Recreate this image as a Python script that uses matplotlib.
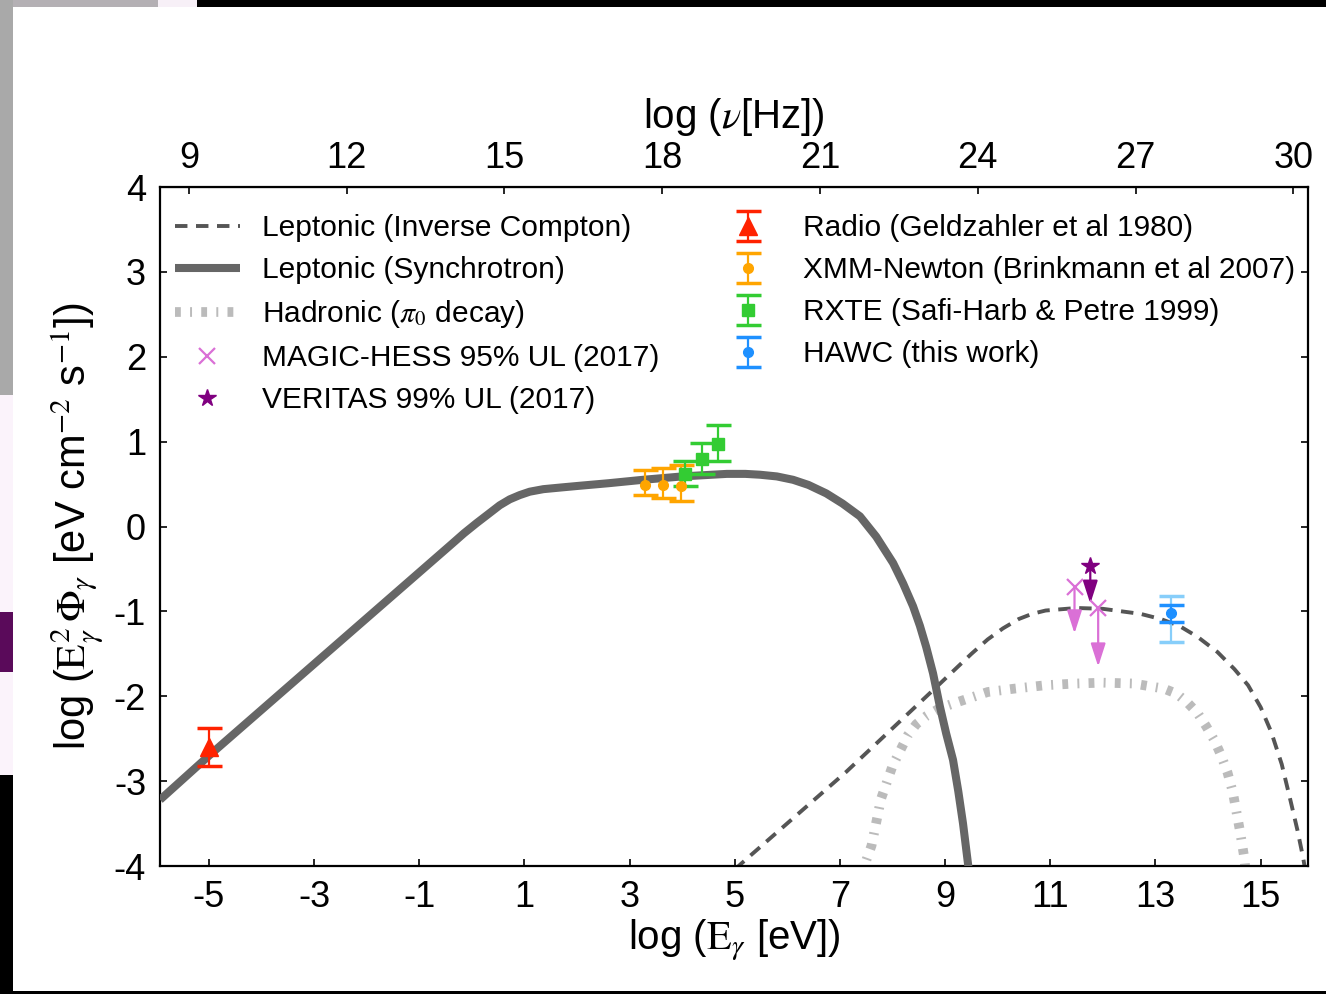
import numpy as np
import matplotlib.pyplot as plt
from matplotlib.patches import Rectangle

plt.rcParams['font.family'] = ['Liberation Sans', 'DejaVu Sans']
plt.rcParams['mathtext.fontset'] = 'stix'
plt.rcParams['axes.unicode_minus'] = False

# --- model curves: log(E [eV]) vs log(E^2 Phi)
sync_x = [-5.93, -4.98, -0.37, -0.15, 0.09, 0.30, 0.53, 0.72, 0.91, 1.10, 1.36, 1.70,
          2.05, 2.60, 3.25, 4.00, 4.85, 5.20, 5.48, 5.80, 6.11, 6.40, 6.74, 7.05,
          7.38, 7.69, 8.01, 8.20, 8.39, 8.52, 8.64, 8.77, 8.90, 9.02, 9.15, 9.25,
          9.34, 9.44, 9.48]
sync_y = [-3.22, -2.69, -0.20, -0.08, 0.04, 0.14, 0.25, 0.32, 0.37, 0.41, 0.44, 0.46,
          0.48, 0.51, 0.55, 0.59, 0.62, 0.62, 0.61, 0.59, 0.55, 0.49, 0.39, 0.27,
          0.12, -0.12, -0.43, -0.67, -0.94, -1.17, -1.42, -1.73, -2.12, -2.44, -2.75, -3.12,
          -3.50, -4.00, -4.20]

ic_x = [5.00, 5.31, 7.12, 8.87, 9.50, 9.81, 10.10, 10.40, 10.65, 10.91, 11.50, 12.00,
        12.72, 13.10, 13.45, 13.80, 14.18, 14.50, 14.76, 15.00, 15.20, 15.40, 15.56,
        15.70, 15.81, 15.86]
ic_y = [-4.04, -3.87, -2.89, -1.87, -1.50, -1.33, -1.20, -1.09, -1.03, -0.99, -0.96, -0.97,
        -1.03, -1.09, -1.17, -1.30, -1.48, -1.68, -1.87, -2.13, -2.42, -2.80, -3.21,
        -3.58, -3.91, -4.10]

had_x = [7.45, 7.49, 7.60, 7.78, 8.00, 8.29, 8.45, 8.65, 8.90, 9.23, 9.81, 10.32,
         10.91, 11.49, 12.00, 12.58, 13.16, 13.40, 13.60, 13.80, 13.96, 14.12, 14.25,
         14.37, 14.47, 14.61, 14.69, 14.72]
had_y = [-4.10, -3.95, -3.76, -3.21, -2.82, -2.46, -2.33, -2.23, -2.14, -2.07, -1.95, -1.91,
         -1.87, -1.85, -1.84, -1.85, -1.91, -1.97, -2.07, -2.20, -2.35, -2.52, -2.70,
         -2.90, -3.13, -3.60, -3.91, -4.10]

# --- measurements
radio_x = [-5.00]
radio_y = [-2.60]
radio_up = [0.23]
radio_dn = [0.22]

xmm_x = [3.29, 3.63, 3.97]
xmm_y = [0.49, 0.49, 0.48]
xmm_up = [0.17, 0.20, 0.24]
xmm_dn = [0.12, 0.15, 0.18]

rxte_x = [4.06, 4.37, 4.68]
rxte_y = [0.62, 0.79, 0.97]
rxte_up = [0.15, 0.19, 0.22]
rxte_dn = [0.14, 0.17, 0.20]

hawc_x = [13.30]
hawc_y = [-1.02]
hawc_stat = [0.10]
hawc_sys_up = [0.20]
hawc_sys_dn = [0.34]

magic_x = [11.46, 11.91]
magic_y = [-0.71, -0.96]
magic_end = [-1.26, -1.65]

veritas_x = [11.76]
veritas_y = [-0.47]
veritas_end = [-0.91]

xticks = [-5, -3, -1, 1, 3, 5, 7, 9, 11, 13, 15]
yticks = [-4, -3, -2, -1, 0, 1, 2, 3, 4]
nu_ticks = [9, 12, 15, 18, 21, 24, 27, 30]
LOG_H = 14.38  # log(nu) = log(E) + 14.38

fig = plt.figure(figsize=(13.26, 9.94), dpi=100)
ax = fig.add_axes([160 / 1326, 1 - 866 / 994, 1148 / 1326, 679 / 994])

l_ic, = ax.plot(ic_x, ic_y, color='#555555', lw=2.8, dashes=(3.2, 2.2), zorder=2,
                label='Leptonic (Inverse Compton)')
l_sync, = ax.plot(sync_x, sync_y, color='#666666', lw=5.8, solid_capstyle='butt',
                  solid_joinstyle='round', zorder=3, label='Leptonic (Synchrotron)')
l_had, = ax.plot(had_x, had_y, color='#bbbbbb', lw=7, dashes=(0.6, 0.95, 0.2, 0.95),
                 dash_capstyle='butt', zorder=1, label=r'Hadronic ($\pi_0$ decay)')

mh, = ax.plot(magic_x, magic_y, ls='none', marker='x', ms=11, mew=1.6, color='#da70d6',
              zorder=5, label='MAGIC-HESS 95% UL (2017)')
vs, = ax.plot(veritas_x, veritas_y, ls='none', marker='*', ms=13, color='#800080',
              zorder=5, label='VERITAS 99% UL (2017)')
for x, y0, y1 in zip(magic_x, magic_y, magic_end):
    ax.annotate('', xy=(x, y1), xytext=(x, y0), zorder=4,
                arrowprops=dict(arrowstyle='-|>,head_length=1.4,head_width=0.45',
                                mutation_scale=10, color='#da70d6', lw=1.6,
                                shrinkA=0, shrinkB=0))
for x, y0, y1 in zip(veritas_x, veritas_y, veritas_end):
    ax.annotate('', xy=(x, y1), xytext=(x, y0), zorder=4,
                arrowprops=dict(arrowstyle='-|>,head_length=1.4,head_width=0.45',
                                mutation_scale=10, color='#800080', lw=1.6,
                                shrinkA=0, shrinkB=0))

eb_kw = dict(ls='none', elinewidth=1.6, capthick=2.5, capsize=9, zorder=6)
radio = ax.errorbar(radio_x, radio_y, yerr=[radio_dn, radio_up], fmt='^', ms=13,
                    color='#ff2200', label='Radio (Geldzahler et al 1980)', **eb_kw)
xmm = ax.errorbar(xmm_x, xmm_y, yerr=[xmm_dn, xmm_up], fmt='o', ms=7,
                  color='#ffa500', label='XMM-Newton (Brinkmann et al 2007)', **eb_kw)
rxte = ax.errorbar(rxte_x, rxte_y, yerr=[rxte_dn, rxte_up], fmt='s', ms=8,
                   color='#33cc33', label='RXTE (Safi-Harb & Petre 1999)', **eb_kw)
ax.errorbar(hawc_x, hawc_y, yerr=[hawc_sys_dn, hawc_sys_up], fmt='none',
            ecolor='#87cefa', elinewidth=1.6, capthick=2.5, capsize=9, zorder=6)
hawc = ax.errorbar(hawc_x, hawc_y, yerr=[hawc_stat, hawc_stat], fmt='o', ms=7,
                   color='#1e90ff', label='HAWC (this work)', **eb_kw)

ax.set_xlim(-5.93, 15.9)
ax.set_ylim(-4, 4)
ax.set_xticks(xticks)
ax.set_yticks(yticks)
ax.tick_params(direction='in', length=5, width=1.2, labelsize=26, pad=10,
               right=True, top=False)
for s in ax.spines.values():
    s.set_linewidth(1.6)

sec = ax.secondary_xaxis('top', functions=(lambda e: e + LOG_H, lambda n: n - LOG_H))
sec.set_xticks(nu_ticks)
sec.tick_params(direction='in', length=5, width=1.2, labelsize=26, pad=8)
sec.set_xlabel(r'log ($\nu$[Hz])', fontsize=29, labelpad=9)

ax.set_xlabel(r'log ($\mathrm{E}_\gamma$ [eV])', fontsize=29, labelpad=2)
ax.set_ylabel(r'log ($\mathrm{E}_\gamma^2\,\Phi_\gamma$ [eV cm$^{-2}$ s$^{-1}$])',
              fontsize=30, labelpad=6)

handles = [l_ic, l_sync, l_had, mh, vs, radio, xmm, rxte, hawc]
ax.legend(handles=handles, labels=[h.get_label() for h in handles], ncol=2,
          loc='upper left', bbox_to_anchor=(0.0, 0.982), frameon=False, fontsize=21.5,
          handlelength=2.17, handletextpad=0.74, columnspacing=1.9, labelspacing=0.47,
          borderaxespad=0.1, numpoints=1)

# screenshot borders around the figure
px = lambda x0, y0, w, h, c: fig.add_artist(Rectangle((x0 / 1326, 1 - (y0 + h) / 994), w / 1326, h / 994,
                                                      transform=fig.transFigure, color=c, lw=0, zorder=10))
px(0, 0, 158, 7, '#b4b0b4')
px(158, 0, 39, 7, '#f7f0f7')
px(197, 0, 1129, 7, 'black')
px(0, 0, 13, 395, '#a9a9a9')
px(0, 395, 13, 217, '#fbf3fb')
px(0, 612, 13, 60, '#5a0a5a')
px(0, 672, 13, 103, '#fbf3fb')
px(0, 775, 13, 219, 'black')
px(13, 991, 1313, 3, 'black')

fig.savefig('out.png', dpi=100)
